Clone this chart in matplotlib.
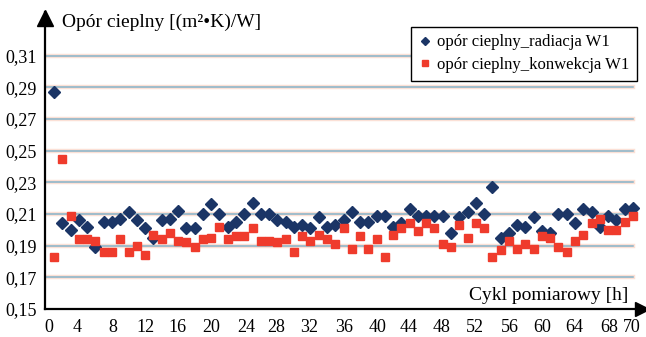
import numpy as np
import matplotlib
matplotlib.use("Agg")
import matplotlib.pyplot as plt

plt.rcParams['font.family'] = ['Liberation Serif', 'DejaVu Serif']

# values (cycle 0..70)
cycles = np.arange(0, 71)
radiacja = [0.287, 0.204, 0.200, 0.206, 0.202, 0.189, 0.205, 0.205, 0.207, 0.211,
            0.206, 0.201, 0.195, 0.206, 0.207, 0.212, 0.201, 0.201, 0.210, 0.216,
            0.210, 0.202, 0.205, 0.210, 0.217, 0.210, 0.210, 0.206, 0.205, 0.202,
            0.203, 0.201, 0.208, 0.202, 0.203, 0.206, 0.211, 0.205, 0.205, 0.209,
            0.209, 0.202, 0.204, 0.213, 0.209, 0.209, 0.209, 0.209, 0.198, 0.208,
            0.211, 0.217, 0.210, 0.227, 0.195, 0.198, 0.203, 0.202, 0.208, 0.199,
            0.198, 0.210, 0.210, 0.204, 0.213, 0.211, 0.202, 0.209, 0.206, 0.213,
            0.214]
konwekcja = [0.183, 0.245, 0.209, 0.194, 0.194, 0.193, 0.186, 0.186, 0.194, 0.186,
             0.190, 0.184, 0.197, 0.194, 0.198, 0.193, 0.192, 0.189, 0.194, 0.195,
             0.202, 0.194, 0.196, 0.196, 0.201, 0.193, 0.193, 0.192, 0.194, 0.186,
             0.196, 0.193, 0.197, 0.194, 0.191, 0.201, 0.188, 0.196, 0.188, 0.194,
             0.183, 0.197, 0.201, 0.204, 0.199, 0.204, 0.201, 0.191, 0.189, 0.203,
             0.195, 0.204, 0.201, 0.183, 0.187, 0.193, 0.188, 0.191, 0.188, 0.196,
             0.195, 0.189, 0.186, 0.193, 0.197, 0.204, 0.207, 0.200, 0.200, 0.205,
             0.209]
x_labels = ['0', '4', '8', '12', '16', '20', '24', '28', '32', '36', '40', '44',
            '48', '52', '56', '60', '64', '68', '70']
y_ticks = [0.15, 0.17, 0.19, 0.21, 0.23, 0.25, 0.27, 0.29, 0.31]
label_rad = 'opór cieplny_radiacja W1'
label_konw = 'opór cieplny_konwekcja W1'

# where the x labels sit in the original (they are not quite on the points)
x_label_pos = [-0.65, 2.8, 7.1, 11.1, 14.9, 19.0, 23.2, 26.9, 30.8, 35.1, 39.1,
               42.9, 46.9, 50.9, 55.1, 59.0, 62.9, 67.1, 69.9]

fig = plt.figure(figsize=(6.46, 3.37), dpi=100)
ax = fig.add_axes([45 / 646, 28 / 337, 597 / 646, 297 / 337])

x_min, x_max = -1.1, 71.1
y_min, y_max = 0.15, 0.3375
ax.set_xlim(x_min, x_max)
ax.set_ylim(y_min, y_max)

# grid lines (blue with a faint peach halo)
for yv in y_ticks[1:]:
    ax.plot([x_min, 70.0], [yv, yv], color='#fbe0d6', lw=3.2, zorder=1)
    ax.plot([x_min, 70.0], [yv, yv], color='#86b3c8', lw=1.1, zorder=2)

ax.plot(cycles, radiacja, linestyle='none', marker='D', markersize=6,
        color='#1b3566', label=label_rad, zorder=3)
ax.plot(cycles, konwekcja, linestyle='none', marker='s', markersize=6,
        color='#ef3b2c', label=label_konw, zorder=4)

# axes lines with arrow heads
for side in ['top', 'right']:
    ax.spines[side].set_visible(False)
for side in ['left', 'bottom']:
    ax.spines[side].set_linewidth(1.6)
    ax.spines[side].set_color('black')
ax.plot([x_min], [0.3335], marker='^', markersize=11, color='black',
        clip_on=False, zorder=6)
ax.plot([x_max], [y_min], marker='>', markersize=10, color='black',
        clip_on=False, zorder=6)

ax.set_yticks(y_ticks)
ax.set_yticklabels(['{:.2f}'.format(v).replace('.', ',') for v in y_ticks])
ax.set_xticks(x_label_pos)
ax.set_xticklabels(x_labels)
ax.tick_params(axis='both', length=0, labelsize=13)
ax.tick_params(axis='y', pad=6)
ax.tick_params(axis='x', pad=7)

fig.text(62 / 646, 1 - 22 / 337, 'Opór cieplny [(m²•K)/W]', fontsize=14,
         ha='left', va='center')
fig.text(628 / 646, 1 - 296 / 337, 'Cykl pomiarowy [h]', fontsize=14,
         ha='right', va='center')

leg = ax.legend(loc='upper right', bbox_to_anchor=(637 / 646, 1 - 27 / 337),
                bbox_transform=fig.transFigure, fontsize=12, frameon=True,
                fancybox=False, framealpha=1, edgecolor='black',
                borderpad=0.45, labelspacing=0.4, handlelength=0.7,
                handletextpad=0.4, borderaxespad=0, markerscale=0.75)
leg.get_frame().set_linewidth(1.0)

fig.savefig('out.png', dpi=100)
